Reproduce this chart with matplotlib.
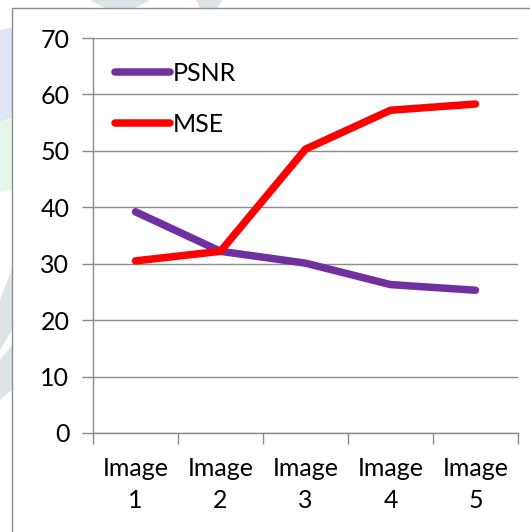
import matplotlib
matplotlib.use("Agg")
import matplotlib.pyplot as plt
from matplotlib.patches import Polygon, Rectangle

categories = ["Image\n1", "Image\n2", "Image\n3", "Image\n4", "Image\n5"]
psnr = [39.2, 32.2, 30.1, 26.3, 25.3]
mse = [30.5, 32.2, 50.3, 57.2, 58.3]
y_ticks = [0, 10, 20, 30, 40, 50, 60, 70]

plt.rcParams["font.family"] = ["Lato", "DejaVu Sans"]
FS = 18

W, H = 530, 532
fig = plt.figure(figsize=(W / 100, H / 100), dpi=100)
fig.patch.set_facecolor("white")


def fx(px):
    return px / W


def fy(py):
    return 1 - py / H


# faint background shapes in the page margin
margin_shapes = [
    ([(0, 30), (12, 28), (12, 118), (0, 122)], "#dfe4f6"),
    ([(0, 122), (12, 118), (12, 190), (0, 192)], "#e6f7ea"),
    ([(0, 300), (12, 268), (12, 330), (0, 350)], "#dde4e8"),
    ([(0, 360), (12, 345), (12, 390), (0, 400)], "#dde4e8"),
    ([(90, 0), (150, 0), (135, 8), (105, 8)], "#dde4e8"),
    ([(196, 0), (222, 0), (218, 8), (200, 8)], "#dde4e8"),
]
for pts, col in margin_shapes:
    fig.patches.append(Polygon([(fx(x), fy(y)) for x, y in pts], closed=True,
                               transform=fig.transFigure, facecolor=col,
                               edgecolor="none", zorder=0))

# chart frame
fig.patches.append(Rectangle((fx(12), fy(545)), fx(530), fy(8) - fy(545),
                             transform=fig.transFigure, facecolor="white",
                             edgecolor="#8c8c8c", linewidth=1.0, zorder=1))

ax = fig.add_axes([fx(93), fy(433), fx(518) - fx(93), fy(38) - fy(433)])
ax.set_facecolor("none")
ax.set_zorder(2)

x = list(range(len(categories)))
ax.plot(x, psnr, color="#7030A0", linewidth=5.4, solid_capstyle="round",
        solid_joinstyle="round", label="PSNR", zorder=3)
ax.plot(x, mse, color="#FF0000", linewidth=5.4, solid_capstyle="round",
        solid_joinstyle="round", label="MSE", zorder=4)

ax.set_xlim(-0.5, len(categories) - 0.5)
ax.set_ylim(0, 70)
ax.set_yticks(y_ticks)
ax.set_yticklabels([str(v) for v in y_ticks])
ax.yaxis.grid(True, color="#8c8c8c", linewidth=1.0)
ax.set_axisbelow(True)

# category boundaries as ticks, labels at the centres
ax.set_xticks([i - 0.5 for i in range(len(categories) + 1)])
ax.set_xticklabels([])
ax.set_xticks(x, minor=True)
ax.set_xticklabels(categories, minor=True, fontsize=FS, linespacing=1.5)
ax.tick_params(axis="x", which="major", direction="out", length=8,
               color="#8c8c8c", width=1.0)
ax.tick_params(axis="x", which="minor", length=0, pad=17)
ax.tick_params(axis="y", direction="out", length=8, color="#8c8c8c",
               width=1.0, labelsize=FS, pad=9)

for side in ("top", "right"):
    ax.spines[side].set_visible(False)
for side in ("left", "bottom"):
    ax.spines[side].set_color("#8c8c8c")
    ax.spines[side].set_linewidth(1.0)

leg = ax.legend(loc="upper left", bbox_to_anchor=(fx(115), fy(62)),
                bbox_transform=fig.transFigure, frameon=False, fontsize=FS,
                handlelength=2.2, handletextpad=0.12, labelspacing=1.1,
                borderpad=0, borderaxespad=0)

fig.savefig("out.png", dpi=100, facecolor="white")
